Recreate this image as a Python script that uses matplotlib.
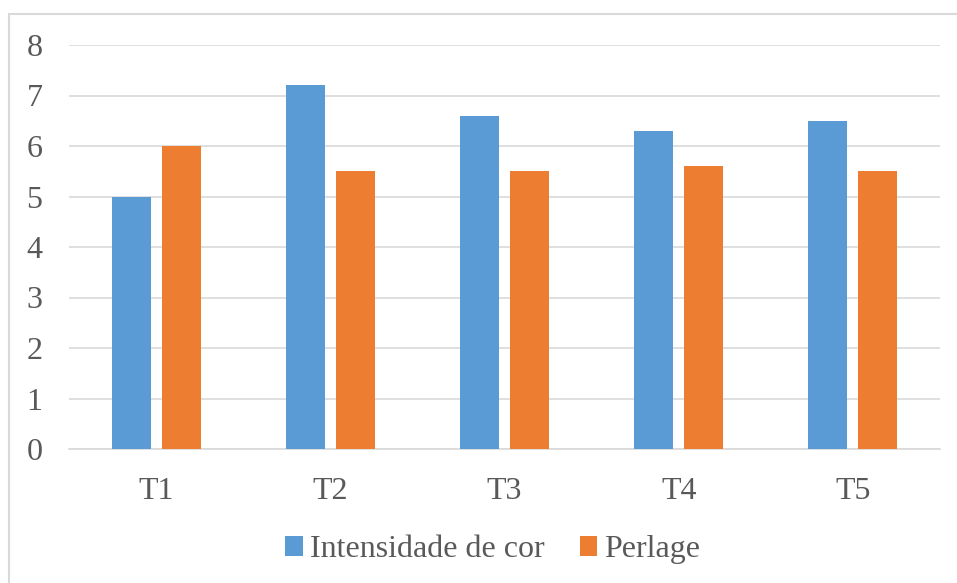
import numpy as np
import matplotlib.pyplot as plt
from matplotlib.patches import Rectangle

plt.rcParams['font.family'] = ['Liberation Serif', 'DejaVu Serif']

categorias = ['T1', 'T2', 'T3', 'T4', 'T5']
intensidade = [5.0, 7.2, 6.6, 6.3, 6.5]
perlage = [6.0, 5.5, 5.5, 5.6, 5.5]

azul = '#5B9BD5'
laranja = '#ED7D31'
cinza_txt = '#595959'
cinza_grade = '#D9D9D9'

fig = plt.figure(figsize=(9.57, 5.83), dpi=100)
ax = fig.add_axes([69 / 957, 134 / 583, 871 / 957, 404 / 583])

# moldura do gráfico
fig.patches.append(Rectangle((9 / 957, -0.05), 1.1, (583 - 14) / 583 + 0.05,
                             transform=fig.transFigure, fill=False,
                             edgecolor=cinza_grade, linewidth=1.5))

x = np.arange(len(categorias))
larg = 0.224
sep = 0.063
ax.bar(x - (larg + sep) / 2, intensidade, larg, color=azul, label='Intensidade de cor', zorder=3)
ax.bar(x + (larg + sep) / 2, perlage, larg, color=laranja, label='Perlage', zorder=3)

ax.set_xlim(-0.5, len(categorias) - 0.5)
ax.set_ylim(0, 8)
ax.set_yticks(range(0, 9))
ax.set_xticks(x)
ax.set_xticklabels(categorias)

ax.grid(axis='y', color=cinza_grade, linewidth=1.2, zorder=0)
for lado in ['top', 'right', 'left']:
    ax.spines[lado].set_visible(False)
ax.spines['bottom'].set_color(cinza_grade)
ax.spines['bottom'].set_linewidth(1.2)

ax.tick_params(axis='y', length=0, pad=19, labelsize=23, labelcolor=cinza_txt)
ax.tick_params(axis='x', length=0, pad=20, labelsize=23, labelcolor=cinza_txt)

fig.legend(loc='center', bbox_to_anchor=(0.515, 0.057), ncol=2, frameon=False,
           fontsize=23, labelcolor=cinza_txt, handlelength=0.55, handleheight=0.55,
           handletextpad=0.22, columnspacing=1.1)

fig.savefig('out.png', dpi=100)
